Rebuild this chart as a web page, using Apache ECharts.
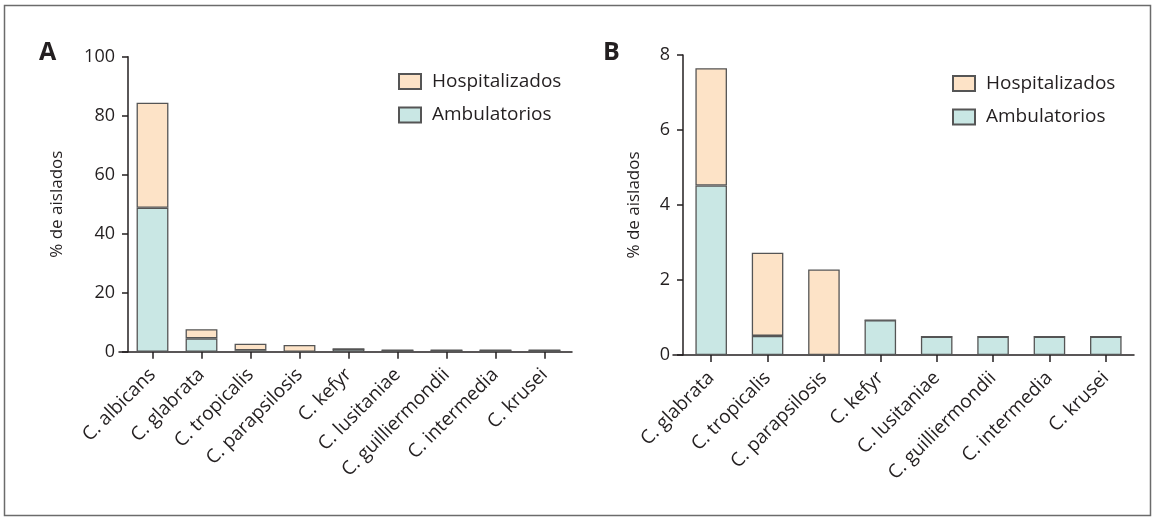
<!DOCTYPE html>
<html>
<head>
<meta charset="utf-8">
<script src="https://cdn.jsdelivr.net/npm/echarts@6/dist/echarts.min.js"></script>
<style>
html,body{margin:0;padding:0;background:#fff;}
#c{width:1156px;height:517px;}
</style>
</head>
<body>
<div id="c"></div>
<script>
// Panel A data
const categoriesA = ['C. albicans','C. glabrata','C. tropicalis','C. parapsilosis','C. kefyr','C. lusitaniae','C. guilliermondii','C. intermedia','C. krusei'];
const ambulatoriosA = [48.8, 4.52, 0.51, 0, 0.93, 0.49, 0.49, 0.49, 0.49];
const hospitalizadosA = [35.6, 3.13, 2.22, 2.28, 0, 0, 0, 0, 0];
const ticksA = {min: 0, max: 100, interval: 20};

// Panel B data
const categoriesB = ['C. glabrata','C. tropicalis','C. parapsilosis','C. kefyr','C. lusitaniae','C. guilliermondii','C. intermedia','C. krusei'];
const ambulatoriosB = [4.52, 0.51, 0, 0.93, 0.49, 0.49, 0.49, 0.49];
const hospitalizadosB = [3.13, 2.22, 2.28, 0, 0, 0, 0, 0];
const ticksB = {min: 0, max: 8, interval: 2};

const FONT = 'Open Sans';
const INK = '#231f20';
const HOSP = '#fde3c7';
const AMB = '#c9e7e4';
const EDGE = '#555555';

const chart = echarts.init(document.getElementById('c'), null, {renderer: 'canvas'});

function yAxisCfg(gridIndex, t, nameGap) {
  return {
    type: 'value', gridIndex: gridIndex, min: t.min, max: t.max, interval: t.interval,
    name: '% de aislados', nameLocation: 'middle', nameGap: nameGap, nameRotate: 90,
    nameTextStyle: {fontFamily: FONT, fontSize: 17, color: INK},
    axisLine: {show: true, lineStyle: {color: INK, width: 1.5}},
    axisTick: {show: true, length: 6, lineStyle: {color: INK, width: 1.5}},
    axisLabel: {fontFamily: FONT, fontSize: 18, color: INK, margin: 13},
    splitLine: {show: false}
  };
}
function xAxisCfg(gridIndex, cats) {
  return {
    type: 'category', gridIndex: gridIndex, data: cats,
    axisLine: {show: false},
    axisTick: {show: true, alignWithLabel: true, length: 7, lineStyle: {color: INK, width: 1.5}},
    axisLabel: {fontFamily: FONT, fontSize: 19, color: INK, rotate: 45, margin: 20, interval: 0}
  };
}
function lineAxis(gridIndex) {
  return {type: 'value', gridIndex: gridIndex, min: 0, max: 1, show: true,
    axisLine: {show: true, lineStyle: {color: INK, width: 1.5}},
    axisTick: {show: false}, axisLabel: {show: false}, splitLine: {show: false}};
}
function hiddenY(gridIndex) {
  return {type: 'value', gridIndex: gridIndex, show: false, min: 0, max: 1, splitLine: {show: false}};
}
function bar(name, data, xi, yi, stack, color, bw) {
  return {
    name: name, type: 'bar', stack: stack, xAxisIndex: xi, yAxisIndex: yi, data: data,
    barWidth: bw, itemStyle: {color: color, borderColor: EDGE, borderWidth: 1.3},
    emphasis: {disabled: true}, animation: false
  };
}
function legendCfg(left, top) {
  return {
    left: left, top: top, orient: 'vertical', padding: 0,
    itemWidth: 22, itemHeight: 15, itemGap: 14.5, icon: 'rect',
    data: ['Hospitalizados', 'Ambulatorios'],
    textStyle: {fontFamily: FONT, fontSize: 19, color: INK, padding: [0, 0, 0, 6]},
    selectedMode: false
  };
}

chart.setOption({
  animation: false,
  grid: [
    {left: 128, top: 56.7, width: 441, height: 295},
    {left: 683, top: 55, width: 451, height: 300},
    {left: 119, top: 56.7, width: 453, height: 295},
    {left: 673, top: 55, width: 461, height: 300}
  ],
  xAxis: [xAxisCfg(0, categoriesA), xAxisCfg(1, categoriesB), lineAxis(2), lineAxis(3)],
  yAxis: [yAxisCfg(0, ticksA, 62), yAxisCfg(1, ticksB, 40), hiddenY(2), hiddenY(3)],
  legend: [legendCfg(398, 72), legendCfg(952, 74)],
  series: [
    bar('Ambulatorios', ambulatoriosA, 0, 0, 'a', AMB, '65%'),
    bar('Hospitalizados', hospitalizadosA, 0, 0, 'a', HOSP, '65%'),
    bar('Ambulatorios', ambulatoriosB, 1, 1, 'b', AMB, '56%'),
    bar('Hospitalizados', hospitalizadosB, 1, 1, 'b', HOSP, '56%')
  ],
  graphic: [
    {type: 'rect', shape: {x: 4.5, y: 5.5, width: 1146, height: 510}, style: {fill: 'none', stroke: '#6b6b6b', lineWidth: 1.5}, silent: true},
    {type: 'text', left: 39, top: 40, style: {text: 'A', font: 'bold 25px "Open Sans"', fill: INK}},
    {type: 'text', left: 603, top: 40, style: {text: 'B', font: 'bold 25px "Open Sans"', fill: INK}}
  ]
});
</script>
</body>
</html>
